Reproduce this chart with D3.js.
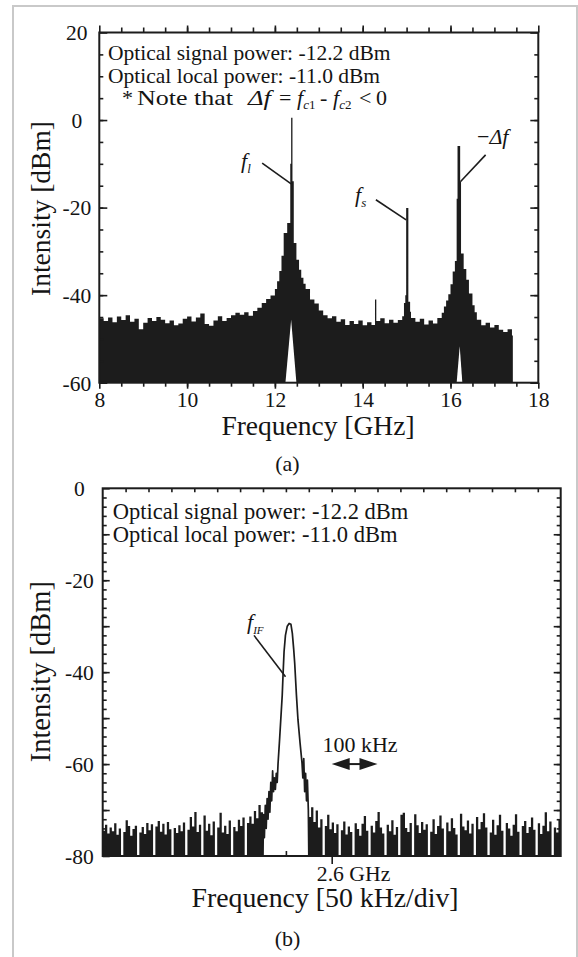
<!DOCTYPE html>
<html><head><meta charset="utf-8">
<script src="https://cdn.jsdelivr.net/npm/d3@7"></script>
<style>
body{margin:0;background:#fff}
svg text{font-family:"Liberation Serif","Times New Roman",serif;fill:#141414}
</style>
</head><body>
<svg id="c" width="578" height="957"></svg>
<script>
// ---------- (a) wide-band spectrum ----------
const freqA = [8.0,8.1,8.2,8.3,8.4,8.5,8.6,8.7,8.8,8.9,9.0,9.1,9.2,9.3,9.4,9.5,9.6,9.7,9.8,9.9,
  10.0,10.1,10.2,10.3,10.4,10.5,10.6,10.7,10.8,10.9,11.0,11.1,11.2,11.3,11.4,11.5,11.6,11.7,11.8,11.9,
  12.0,12.05,12.1,12.15,12.2,12.28,12.35,12.37,12.40,12.43,12.49,12.55,12.6,12.65,12.7,12.8,12.9,
  13.0,13.1,13.2,13.3,13.4,13.5,13.6,13.7,13.8,13.9,14.0,14.1,14.2,14.28,14.31,14.4,14.5,14.6,14.7,14.8,14.9,
  14.94,14.97,14.99,15.04,15.08,15.1,15.2,15.3,15.4,15.5,15.6,15.7,15.8,15.85,15.9,15.95,16.0,16.05,16.1,
  16.14,16.16,16.22,16.24,16.3,16.36,16.42,16.5,16.55,16.6,16.7,16.8,16.9,17.0,17.1,17.2,17.3,17.4,17.42];
const powA = [-45.3,-45.9,-45.1,-46.2,-44.9,-45.7,-44.6,-46.1,-45.4,-47.8,-46.3,-45.2,-45.9,-45.0,-45.6,-46.4,-45.8,-46.9,-46.5,-45.4,
  -44.9,-46.0,-45.1,-44.2,-46.6,-47.0,-45.8,-44.8,-45.9,-45.2,-44.6,-44.0,-44.5,-43.9,-44.7,-43.6,-42.9,-41.8,-40.9,-40.1,
  -38.6,-36.8,-34.5,-31.0,-25.8,-23.5,-10,0.5,-14,-28.1,-31.9,-34.2,-36.0,-37.4,-38.6,-41.0,-41.9,
  -43.5,-44.6,-45.3,-44.8,-46.1,-45.5,-46.8,-45.9,-46.6,-45.8,-46.9,-46.2,-46.8,-41.0,-45.9,-45.3,-46.4,-45.6,-46.3,-45.7,-44.8,
  -41.8,-40.0,-20.1,-41.5,-43.8,-45.2,-46.1,-45.4,-46.7,-45.8,-46.5,-45.2,-44.0,-42.6,-41.2,-39.8,-37.5,-34.6,-32.2,
  -18,-5.9,-14,-30.5,-34.0,-36.5,-39.6,-42.3,-43.9,-45.6,-46.9,-46.3,-47.4,-46.8,-47.9,-48.4,-47.8,-49.2,-60];
// lower envelope of the trace under the two strong peaks
const wedgeFreq1 = [12.24,12.37,12.49], wedgePow1 = [-60,-45.6,-60];
const wedgeFreq2 = [16.14,16.21,16.27], wedgePow2 = [-60,-51.7,-60];
const xTicksA = [8,10,12,14,16,18];
const yTicksA = [20,0,-20,-40,-60];

// ---------- (b) beat spectrum around 2.6 GHz (kHz offset) ----------
const noiseStep = 2.5;
const noiseLStart = -250;
const noiseL = [-74.5,-73.2,-75.1,-73.8,-74.6,-72.9,-75.4,-74.0,-80,-74.8,-72.2,-73.5,-75.6,-74.1,-73.4,-80,
  -74.9,-73.7,-75.2,-72.8,-74.4,-73.1,-80,-73.6,-72.4,-74.7,-73.0,-75.3,-72.6,-74.2,-80,-73.9,-75.0,-73.3,
  -74.6,-72.7,-80,-74.3,-71.5,-73.6,-70.4,-74.8,-73.2,-80,-71.2,-74.5,-73.0,-75.5,-72.5,-80,-73.8,-70.6,
  -74.9,-73.4,-75.2,-72.3,-80,-73.7,-74.6,-72.1,-73.5,-71.6,-80,-72.8,-71.4,-73.0,-70.2,-71.8,-68.9,-70.5,-80];
const noiseRStart = -25;
const noiseR = [-71.5,-69.4,-72.6,-70.1,-73.8,-72.0,-80,-73.5,-71.0,-74.2,-72.7,-75.0,-73.1,-80,-74.4,-72.5,
  -75.3,-73.6,-74.8,-80,-72.9,-74.1,-75.6,-73.0,-71.3,-74.5,-80,-73.4,-74.9,-72.4,-70.4,-73.8,-75.1,-80,
  -73.2,-74.6,-72.2,-75.4,-73.7,-80,-71.0,-70.6,-73.9,-74.8,-72.8,-80,-70.9,-73.3,-75.0,-72.6,-74.3,-73.1,
  -80,-74.7,-72.0,-75.2,-73.5,-71.2,-74.0,-80,-72.7,-74.6,-71.8,-73.9,-75.3,-80,-70.8,-73.6,-74.4,-72.3,
  -75.1,-73.0,-80,-71.5,-74.2,-72.6,-70.7,-73.8,-80,-74.9,-72.1,-75.4,-73.3,-71.0,-74.5,-80,-72.8,-74.0,
  -75.6,-73.2,-70.9,-74.7,-80,-73.5,-72.4,-75.0,-73.7,-71.6,-74.3,-80,-72.9,-75.2,-73.4,-70.5,-74.6,-72.5,
  -80,-73.8,-74.9,-72.0,-71.0];
const peakK = [-75,-74.5,-73.5,-72.5,-71.5,-70.5,-69.5,-68.5,-67.5,-66.5,-65.5,-64.5,-63.5,-62.5,-61.5,-60.5,-59.5,
  -58.6,-57,-55.5,-54,-53,-52,-50.5,-48.5,-46.5,-44.5,-43,-41.5,-40.4,-38.5,-36.8,-34.5,-32.4,
  -31.5,-30.5,-29.5,-28.5,-27.5,-26.5,-25.5,-25];
const peakP = [-80,-71,-76,-69,-74,-67.5,-72,-66,-70.5,-64,-68,-61.5,-66,-63,-65.5,-62,-64,
  -60,-55,-50,-45,-40,-35.5,-32,-30,-29.4,-29.6,-31.5,-35,-38,-45,-50.4,-55.5,-59.8,
  -63,-58.8,-66,-62,-68,-63.5,-70,-80];
const yTicksB = [0,-20,-40,-60,-80];

const svg = d3.select("#c");
const ink = "#1c1c1c";
const SERIF = '"Liberation Serif", "Times New Roman", serif';
const fmt = d => d < 0 ? "-" + (-d) : String(d);

// outer scan frame
svg.append("rect").attr("x",13).attr("y",6).attr("width",564).attr("height",980)
  .attr("fill","none").attr("stroke","#c9c9c9").attr("stroke-width",2);

// ================= chart (a) =================
const xa = d3.scaleLinear([8,18],[99.3,538.3]);
const ya = d3.scaleLinear([-60,20],[382.7,32.5]);
const ga = svg.append("g");
const ptsA = freqA.map((f,i)=>({f,p:powA[i]}));
ga.append("path").datum(ptsA)
  .attr("d", d3.area().x(d=>xa(d.f)).y0(ya(-60)).y1(d=>ya(d.p)).curve(d3.curveStepAfter))
  .attr("fill",ink);
[[wedgeFreq1,wedgePow1],[wedgeFreq2,wedgePow2]].forEach(([fs,ps])=>{
  ga.append("path").datum(fs.map((f,i)=>({f,p:ps[i]})))
    .attr("d", d3.area().x(d=>xa(d.f)).y0(ya(-60)).y1(d=>ya(d.p)))
    .attr("fill","#fff");
});

function styleAxis(g){
  g.select(".domain").remove();
  g.attr("font-family",null);
  g.selectAll("line").attr("stroke",ink).attr("stroke-width",1.6);
  g.selectAll("text").attr("fill","#141414");
}
// ticks (a)
ga.append("g").attr("transform",`translate(0,${ya(20)})`)
  .call(d3.axisTop(xa).tickValues(d3.range(8.5,18,0.5)).tickSize(5).tickFormat("")).call(styleAxis);
ga.append("g").attr("transform",`translate(0,${ya(20)})`)
  .call(d3.axisTop(xa).tickValues(xTicksA).tickSize(7).tickFormat("")).call(styleAxis);
ga.append("g").attr("transform",`translate(0,${ya(-60)})`)
  .call(d3.axisBottom(xa).tickValues(d3.range(8.5,18,0.5)).tickSize(4).tickFormat("")).call(styleAxis);
const bxa = ga.append("g").attr("transform",`translate(0,${ya(-60)})`)
  .call(d3.axisBottom(xa).tickValues(xTicksA).tickSize(6).tickFormat(fmt)).call(styleAxis);
bxa.selectAll("text").attr("font-size",21.5).attr("dy",null).attr("y",24.8);
ga.append("g").attr("transform",`translate(${xa(8)},0)`)
  .call(d3.axisLeft(ya).tickValues(d3.range(-55,20,5)).tickSize(-4).tickFormat("")).call(styleAxis);
const lya = ga.append("g").attr("transform",`translate(${xa(8)},0)`)
  .call(d3.axisLeft(ya).tickValues(yTicksA).tickSize(-8).tickFormat(fmt)).call(styleAxis);
lya.selectAll("text").attr("font-size",21.5).attr("text-anchor","middle").attr("x",-22.5).attr("dy","0.34em");
ga.append("g").attr("transform",`translate(${xa(18)},0)`)
  .call(d3.axisRight(ya).tickValues(d3.range(-55,20,5)).tickSize(-4).tickFormat("")).call(styleAxis);
ga.append("g").attr("transform",`translate(${xa(18)},0)`)
  .call(d3.axisRight(ya).tickValues(yTicksA).tickSize(-8).tickFormat("")).call(styleAxis);
ga.append("rect").attr("x",xa(8)).attr("y",ya(20)).attr("width",xa(18)-xa(8)).attr("height",ya(-60)-ya(20))
  .attr("fill","none").attr("stroke",ink).attr("stroke-width",2);

// texts (a)
const T = (g,x,y,s,size)=>g.append("text").attr("x",x).attr("y",y).attr("font-size",size).text(s);
T(ga,108,60,"Optical signal power: -12.2 dBm",21.5);
T(ga,108,83,"Optical local power: -11.0 dBm",21.5);
const n3 = ga.append("text").attr("y",104.5).attr("font-size",22);
n3.append("tspan").attr("x",122).text("*");
n3.append("tspan").attr("x",137).attr("textLength",96).attr("lengthAdjust","spacingAndGlyphs").text("Note that");
n3.append("tspan").attr("x",248).attr("font-style","italic").attr("textLength",23).attr("lengthAdjust","spacingAndGlyphs").text("Δf");
n3.append("tspan").attr("x",279).text("=");
n3.append("tspan").attr("x",297).attr("font-style","italic").text("f");
n3.append("tspan").attr("font-size",13).attr("dy",4).attr("font-style","italic").text("c");
n3.append("tspan").attr("font-size",13).text("1");
n3.append("tspan").attr("x",320).attr("dy",-4).text("-");
n3.append("tspan").attr("x",333).attr("font-style","italic").text("f");
n3.append("tspan").attr("font-size",13).attr("dy",4).attr("font-style","italic").text("c");
n3.append("tspan").attr("font-size",13).text("2");
n3.append("tspan").attr("x",359).attr("dy",-4).text("<");
n3.append("tspan").attr("x",376).text("0");

// peak labels (a)
function italicLabel(g,x,y,main,sub){
  const t = g.append("text").attr("x",x).attr("y",y).attr("font-size",22).attr("font-style","italic");
  t.append("tspan").text(main);
  if(sub) t.append("tspan").attr("font-size",13).attr("dy",5).text(sub);
  return t;
}
italicLabel(ga,241,168,"f","l");
italicLabel(ga,355,202,"f","s");
const dl = ga.append("text").attr("x",477).attr("y",144).attr("font-size",22);
dl.append("tspan").text("−");
dl.append("tspan").attr("font-style","italic").text("Δf");
const leaderA = [[11.71,-9.85,12.37,-14.6],[14.30,-18.2,14.99,-22.8],[16.80,-7.95,16.23,-14.05]];
leaderA.forEach(([f1,p1,f2,p2])=>ga.append("line").attr("x1",xa(f1)).attr("y1",ya(p1))
  .attr("x2",xa(f2)).attr("y2",ya(p2)).attr("stroke",ink).attr("stroke-width",1.6));

T(ga,318,435,"Frequency [GHz]",27.5).attr("text-anchor","middle");
T(ga,287.5,471,"(a)",22).attr("text-anchor","middle");
ga.append("text").attr("transform","translate(50,208.5) rotate(-90)").attr("text-anchor","middle")
  .attr("font-size",27.5).text("Intensity [dBm]");

// ================= chart (b) =================
const xb = d3.scaleLinear([-250,250],[102.7,560.7]);
const yb = d3.scaleLinear([-80,0],[856,488.3]);
const gb = svg.append("g");
const noiseArea = (start)=>d3.area().x((d,i)=>xb(start+i*noiseStep)).y0(yb(-80)).y1(d=>yb(d)).curve(d3.curveStepAfter);
gb.append("path").datum(noiseL).attr("d",noiseArea(noiseLStart)).attr("fill",ink);
gb.append("path").datum(noiseR).attr("d",noiseArea(noiseRStart)).attr("fill",ink);
gb.append("path").datum(peakK.map((k,i)=>({k,p:peakP[i]})))
  .attr("d",d3.line().x(d=>xb(d.k)).y(d=>yb(d.p)))
  .attr("fill","none").attr("stroke",ink).attr("stroke-width",1.7).attr("stroke-linejoin","round");

gb.append("g").attr("transform",`translate(0,${yb(0)})`)
  .call(d3.axisTop(xb).tickValues(d3.range(-225,250,25)).tickSize(-4).tickFormat("")).call(styleAxis);
gb.append("g").attr("transform",`translate(0,${yb(-80)})`)
  .call(d3.axisBottom(xb).tickValues(d3.range(-200,250,50)).tickSize(-5).tickFormat("")).call(styleAxis);
gb.append("g").attr("transform",`translate(0,${yb(-80)})`)
  .call(d3.axisBottom(xb).tickValues([0]).tickSize(8).tickFormat("")).call(styleAxis);
gb.append("g").attr("transform",`translate(${xb(-250)},0)`)
  .call(d3.axisLeft(yb).tickValues(d3.range(-78,0,2)).tickSize(-4).tickFormat("")).call(styleAxis);
gb.append("g").attr("transform",`translate(${xb(-250)},0)`)
  .call(d3.axisLeft(yb).tickValues([-70,-50,-30,-10]).tickSize(-7).tickFormat("")).call(styleAxis);
const lyb = gb.append("g").attr("transform",`translate(${xb(-250)},0)`)
  .call(d3.axisLeft(yb).tickValues(yTicksB).tickSize(-7).tickFormat(fmt)).call(styleAxis);
lyb.selectAll("text").attr("font-size",21.5).attr("text-anchor","middle").attr("x",-23.4).attr("dy","0.34em");
gb.append("g").attr("transform",`translate(${xb(250)},0)`)
  .call(d3.axisRight(yb).tickValues(d3.range(-78,0,2)).tickSize(-4).tickFormat("")).call(styleAxis);
gb.append("g").attr("transform",`translate(${xb(250)},0)`)
  .call(d3.axisRight(yb).tickValues(d3.range(-70,0,10)).tickSize(-7).tickFormat("")).call(styleAxis);
gb.append("rect").attr("x",xb(-250)).attr("y",yb(0)).attr("width",xb(250)-xb(-250)).attr("height",yb(-80)-yb(0))
  .attr("fill","none").attr("stroke",ink).attr("stroke-width",2);

T(gb,112.7,519,"Optical signal power: -12.2 dBm",22.5);
T(gb,112.7,542,"Optical local power: -11.0 dBm",22.5);
italicLabel(gb,247,629,"f","IF").select("tspan:last-child").attr("font-size",11);
gb.append("line").attr("x1",xb(-84.8)).attr("y1",yb(-32)).attr("x2",xb(-50.4)).attr("y2",yb(-41))
  .attr("stroke",ink).attr("stroke-width",1.6);

// 100 kHz double arrow
const arrowK = [0,50], arrowP = -60;
const ay = yb(arrowP), ax1 = xb(arrowK[0]), ax2 = xb(arrowK[1]);
gb.append("line").attr("x1",ax1+10).attr("x2",ax2-10).attr("y1",ay).attr("y2",ay).attr("stroke",ink).attr("stroke-width",2);
gb.append("path").attr("d",`M${ax1},${ay}L${ax1+18},${ay-6}L${ax1+18},${ay+6}Z`).attr("fill",ink);
gb.append("path").attr("d",`M${ax2},${ay}L${ax2-18},${ay-6}L${ax2-18},${ay+6}Z`).attr("fill",ink);
T(gb,360,752,"100 kHz",22).attr("text-anchor","middle");

T(gb,316.8,880.5,"2.6 GHz",21.7);
T(gb,325,907,"Frequency [50 kHz/div]",27.8).attr("text-anchor","middle");
T(gb,287.5,946,"(b)",22).attr("text-anchor","middle");
gb.append("text").attr("transform","translate(50,671.7) rotate(-90)").attr("text-anchor","middle")
  .attr("font-size",28.5).text("Intensity [dBm]");

// force the serif face everywhere
svg.selectAll("text").style("font-family", SERIF);
</script>
</body></html>
